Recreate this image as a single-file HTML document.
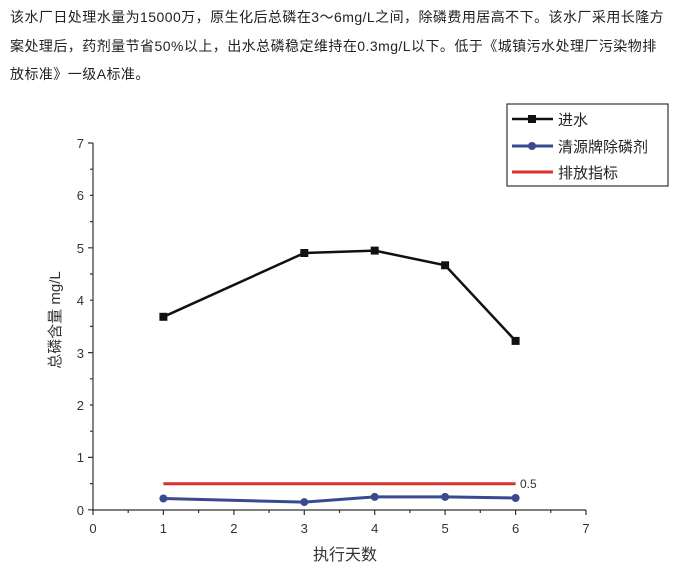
<!DOCTYPE html>
<html><head><meta charset="utf-8"><style>
body{margin:0;background:#fff;width:675px;height:584px;overflow:hidden}
.t{position:absolute;left:10px;top:3px;white-space:nowrap;font:14px "Liberation Sans","Noto Sans CJK SC",sans-serif;line-height:28.5px;color:#222;letter-spacing:0.45px}
svg{position:absolute;left:0;top:0}
</style></head><body>
<div class="t">该水厂日处理水量为15000万，原生化后总磷在3～6mg/L之间，除磷费用居高不下。该水厂采用长隆方<br>案处理后，药剂量节省50%以上，出水总磷稳定维持在0.3mg/L以下。低于《城镇污水处理厂污染物排<br>放标准》一级A标准。</div>
<svg width="675" height="584" font-family="Liberation Sans, Noto Sans CJK SC, sans-serif">
<g stroke="#333" stroke-width="1.2" fill="none">
<line x1="93" y1="143" x2="93" y2="511"/>
<line x1="92" y1="510" x2="586" y2="510"/>
<path d="M93 143h-5M93 195.4h-3M93 247.8h-5M93 300.2h-3M93 352.6h-5M93 405h-3M93 457.4h-5M93 509.8h-5M93 221.6h-3M93 169.2h-3M93 274h-3M93 326.4h-3M93 378.8h-3M93 431.2h-3M93 483.6h-3"/>
<path d="M93 510v5M163.4 510v5M233.9 510v5M304.3 510v5M374.7 510v5M445.1 510v5M515.6 510v5M586 510v5M128.2 510v3M198.6 510v3M269.1 510v3M339.5 510v3M409.9 510v3M480.3 510v3M550.8 510v3"/>
</g>
<g font-size="13" fill="#333" text-anchor="end">
<text x="84" y="148">7</text><text x="84" y="200">6</text><text x="84" y="253">5</text><text x="84" y="305">4</text><text x="84" y="358">3</text><text x="84" y="410">2</text><text x="84" y="462">1</text><text x="84" y="515">0</text>
</g>
<g font-size="13" fill="#333" text-anchor="middle">
<text x="93" y="533">0</text><text x="163.4" y="533">1</text><text x="233.9" y="533">2</text><text x="304.3" y="533">3</text><text x="374.7" y="533">4</text><text x="445.1" y="533">5</text><text x="515.6" y="533">6</text><text x="586" y="533">7</text>
</g>
<text x="345" y="560" font-size="16" fill="#333" text-anchor="middle">执行天数</text>
<text transform="translate(60,320) rotate(-90)" font-size="15" fill="#333" text-anchor="middle">总磷含量 mg/L</text>
<line x1="163.4" y1="483.8" x2="515.6" y2="483.8" stroke="#d9312b" stroke-width="3"/>
<text x="520" y="488" font-size="12" fill="#333">0.5</text>
<polyline points="163.4,316.8 304.3,253 374.7,250.6 445.1,265.3 515.6,340.9" fill="none" stroke="#111" stroke-width="2.5"/>
<g fill="#111">
<rect x="159.4" y="312.8" width="8" height="8"/><rect x="300.3" y="249" width="8" height="8"/><rect x="370.7" y="246.6" width="8" height="8"/><rect x="441.1" y="261.3" width="8" height="8"/><rect x="511.6" y="336.9" width="8" height="8"/>
</g>
<polyline points="163.4,498.5 304.3,502.1 374.7,496.9 445.1,496.9 515.6,498" fill="none" stroke="#3a4a8f" stroke-width="3"/>
<g fill="#3a4a8f">
<circle cx="163.4" cy="498.5" r="4"/><circle cx="304.3" cy="502.1" r="4"/><circle cx="374.7" cy="496.9" r="4"/><circle cx="445.1" cy="496.9" r="4"/><circle cx="515.6" cy="498" r="4"/>
</g>
<rect x="507" y="104" width="161" height="82" fill="#fff" stroke="#333" stroke-width="1.2"/>
<line x1="512" y1="119" x2="553" y2="119" stroke="#111" stroke-width="2.5"/><rect x="528" y="115" width="8" height="8" fill="#111"/>
<line x1="512" y1="146" x2="553" y2="146" stroke="#3a4a8f" stroke-width="3"/><circle cx="532" cy="146" r="4" fill="#3a4a8f"/>
<line x1="512" y1="172" x2="553" y2="172" stroke="#d9312b" stroke-width="3"/>
<g font-size="15" fill="#222"><text x="558" y="125">进水</text><text x="558" y="152">清源牌除磷剂</text><text x="558" y="178">排放指标</text></g>
</svg>
</body></html>
